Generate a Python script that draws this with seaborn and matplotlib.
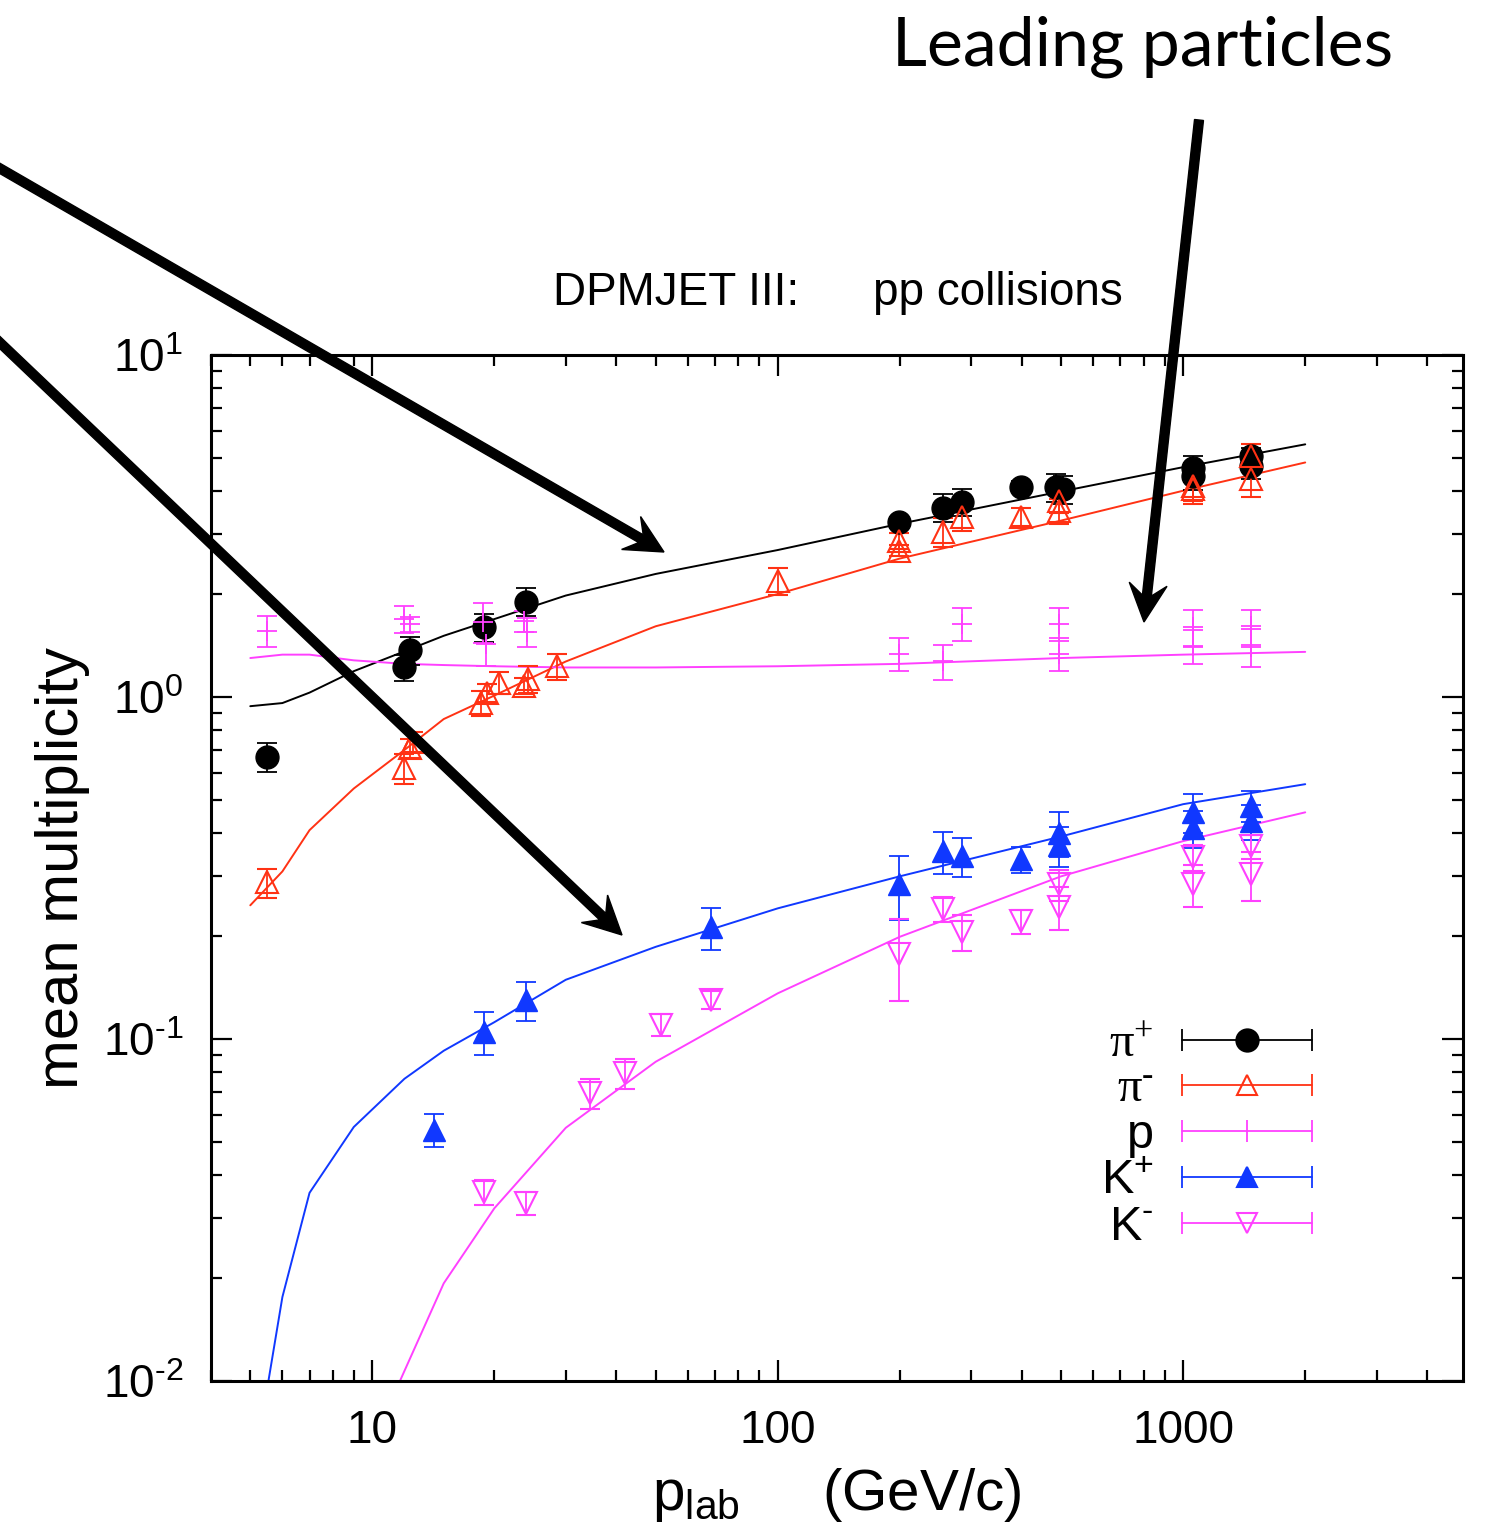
import numpy as np
import pandas as pd
import matplotlib
matplotlib.use("Agg")
import matplotlib.pyplot as plt
import seaborn as sns
from matplotlib.patches import FancyArrow
from matplotlib.transforms import IdentityTransform
from matplotlib.ticker import LogLocator, FixedLocator, FuncFormatter, NullFormatter

# ---------------- DPMJET III model curves (pp collisions) ----------------
p_model = [5, 6, 7, 9, 12, 15, 20, 30, 50, 100, 200, 500, 1000, 2000]
pip_model = [0.94, 0.96, 1.03, 1.19, 1.36, 1.51, 1.69, 1.98, 2.29, 2.69, 3.21, 3.99, 4.70, 5.48]
pim_model = [0.246, 0.309, 0.408, 0.540, 0.70, 0.862, 1.01, 1.27, 1.61, 2.00, 2.54, 3.28, 4.01, 4.85]
prot_model = [1.30, 1.33, 1.33, 1.28, 1.25, 1.24, 1.23, 1.22, 1.22, 1.23, 1.25, 1.30, 1.33, 1.355]
kp_model = [0.0048, 0.0176, 0.0355, 0.0553, 0.0765, 0.0924, 0.112, 0.149, 0.186, 0.241, 0.299, 0.391, 0.486, 0.556]
km_model = [0.0008, 0.0015, 0.0025, 0.0050, 0.0107, 0.0193, 0.032, 0.055, 0.0858, 0.136, 0.199, 0.299, 0.379, 0.460]

# ---------------- experimental data ----------------
pip_p = [5.5, 12.0, 12.4, 18.9, 24, 199, 255, 285, 398, 485, 505, 1058, 1058, 1472, 1472]
pip_m = [0.667, 1.22, 1.37, 1.60, 1.90, 3.25, 3.58, 3.72, 4.12, 4.10, 4.05, 4.66, 4.44, 5.05, 4.75]
pip_e = [0.065, 0.11, 0.13, 0.15, 0.18, 0.12, 0.33, 0.34, 0.15, 0.38, 0.38, 0.40, 0.40, 0.30, 0.40]

pim_p = [5.5, 12.0, 12.4, 12.6, 18.5, 19.2, 20.5, 23.7, 24.2, 28.5, 100, 199, 199, 255, 285, 398,
         494, 494, 1058, 1058, 1472, 1472]
pim_m = [0.287, 0.62, 0.71, 0.74, 0.96, 1.03, 1.10, 1.08, 1.13, 1.23, 2.19, 2.86, 2.68, 3.04, 3.37, 3.37,
         3.75, 3.50, 4.15, 4.06, 5.05, 4.35]
pim_e = [0.028, 0.063, 0.045, 0.05, 0.08, 0.06, 0.08, 0.06, 0.10, 0.11, 0.20, 0.15, 0.10, 0.30, 0.32, 0.20,
         0.30, 0.30, 0.40, 0.40, 0.45, 0.50]

pr_p = [5.5, 12.0, 12.4, 18.7, 19.1, 23.7, 24.1, 199, 255, 285, 494, 494, 1058, 1058, 1472, 1472]
pr_m = [1.56, 1.69, 1.63, 1.66, 1.43, 1.67, 1.55, 1.34, 1.27, 1.64, 1.64, 1.34, 1.60, 1.41, 1.61, 1.40]
pr_e = [0.16, 0.15, 0.08, 0.22, 0.20, 0.12, 0.15, 0.15, 0.15, 0.18, 0.18, 0.15, 0.20, 0.16, 0.19, 0.18]

kp_p = [14.2, 18.9, 24, 68.6, 199, 255, 285, 398, 494, 494, 1058, 1058, 1472, 1472]
kp_m = [0.0542, 0.105, 0.130, 0.212, 0.283, 0.354, 0.342, 0.335, 0.400, 0.368, 0.460, 0.413, 0.480, 0.433]
kp_e = [0.006, 0.015, 0.017, 0.030, 0.060, 0.050, 0.045, 0.030, 0.060, 0.050, 0.060, 0.050, 0.050, 0.050]

km_p = [18.9, 24, 34.4, 42, 51.6, 68.6, 199, 255, 285, 398, 494, 494, 1058, 1058, 1472, 1472]
km_m = [0.0357, 0.0331, 0.0696, 0.0796, 0.110, 0.130, 0.177, 0.240, 0.206, 0.221, 0.283, 0.243,
        0.340, 0.283, 0.366, 0.303]
km_e = [0.003, 0.0025, 0.007, 0.008, 0.008, 0.008, 0.048, 0.020, 0.025, 0.018, 0.030, 0.035,
        0.030, 0.040, 0.030, 0.050]

species = ["pi+", "pi-", "p", "K+", "K-"]
HY = "\u2010"  # short hyphen used for negative signs
labels = [r"$\mathregular{π^{+}}$", r"$\mathregular{π^{" + HY + "}}$", "p",
          r"$\mathregular{K^{+}}$", r"$\mathregular{K^{" + HY + "}}$"]

BLACK, RED, MAGENTA, BLUE = "#000000", "#ff3214", "#ff40ff", "#1038ff"
colors = {"pi+": BLACK, "pi-": RED, "p": MAGENTA, "K+": BLUE, "K-": MAGENTA}

sns.set_theme(style="ticks")
plt.rcParams["font.family"] = ["Liberation Sans", "DejaVu Sans"]
plt.rcParams["mathtext.fontset"] = "custom"
plt.rcParams["mathtext.rm"] = "Liberation Sans"
plt.rcParams["mathtext.it"] = "Liberation Sans:italic"
plt.rcParams["mathtext.default"] = "regular"
plt.rcParams["text.color"] = "black"
plt.rcParams["axes.labelcolor"] = "black"
plt.rcParams["xtick.color"] = "black"
plt.rcParams["ytick.color"] = "black"
plt.rcParams["xtick.labelcolor"] = "black"
plt.rcParams["ytick.labelcolor"] = "black"
plt.rcParams["axes.edgecolor"] = "black"

W, H = 1490, 1529
fig = plt.figure(figsize=(W / 100, H / 100), dpi=100)
fig.patch.set_facecolor("white")
ax = fig.add_axes([211 / W, 1 - 1381 / H, 1252 / W, 1026 / H])
ax.set_facecolor("white")
ax.set_xscale("log")
ax.set_yscale("log")

# model curves
model = pd.DataFrame({
    "p_lab": p_model * 5,
    "mult": pip_model + pim_model + prot_model + kp_model + km_model,
    "species": [s for s in species for _ in p_model],
})
sns.lineplot(data=model, x="p_lab", y="mult", hue="species", palette=colors,
             estimator=None, sort=False, legend=False, linewidth=1.4, ax=ax)

# measurements with error bars
common = dict(ls="none", capsize=7.5, elinewidth=1.3, capthick=1.3, zorder=3)
ax.errorbar(pip_p, pip_m, yerr=pip_e, fmt="o", color=BLACK, ms=16.5, **common)
ax.errorbar(pim_p, pim_m, yerr=pim_e, fmt="^", color=RED, mfc="none", mec=RED, ms=16, mew=1.5, **common)
ax.errorbar(pr_p, pr_m, yerr=pr_e, fmt="+", color=MAGENTA, ms=15, mew=1.3, **common)
ax.errorbar(kp_p, kp_m, yerr=kp_e, fmt="^", color=BLUE, ms=16, **common)
ax.errorbar(km_p, km_m, yerr=km_e, fmt="v", color=MAGENTA, mfc="none", mec=MAGENTA, ms=16, mew=1.5, **common)

ax.set_xlim(4, 4900)
ax.set_ylim(0.01, 10)
ax.set_xlabel("")
ax.set_ylabel("")


def decade_label(v, pos):
    e = int(round(np.log10(v)))
    es = (HY + str(-e)) if e < 0 else str(e)
    return r"$\mathregular{10^{" + es + "}}$"


ax.xaxis.set_major_locator(FixedLocator([10, 100, 1000]))
ax.xaxis.set_major_formatter(FuncFormatter(lambda v, pos: f"{int(round(v))}"))
ax.xaxis.set_minor_locator(LogLocator(base=10, subs=np.arange(2, 10), numticks=20))
ax.xaxis.set_minor_formatter(NullFormatter())
ax.yaxis.set_major_locator(FixedLocator([0.01, 0.1, 1, 10]))
ax.yaxis.set_major_formatter(FuncFormatter(decade_label))
ax.yaxis.set_minor_locator(LogLocator(base=10, subs=np.arange(2, 10), numticks=20))
ax.yaxis.set_minor_formatter(NullFormatter())

ax.tick_params(which="both", direction="in", top=True, right=True, width=1.6, colors="black")
ax.tick_params(which="major", length=15, labelsize=33, pad=20)
ax.tick_params(which="minor", length=8)
for s in ax.spines.values():
    s.set_linewidth(2.2)
    s.set_color("black")

# key: label on the left, error-bar sample on the right
key_rows = [0.3324, 0.2885, 0.2437, 0.1988, 0.1540]
key_markers = [("o", BLACK, BLACK), ("^", RED, "none"), ("|", MAGENTA, MAGENTA),
               ("^", BLUE, BLUE), ("v", MAGENTA, "none")]
x0, x1 = (1182 - 211) / 1252, (1312 - 211) / 1252
xc = 0.5 * (x0 + x1)
for yk, lab, (mk, col, fc), sp in zip(key_rows, labels, key_markers, species):
    ax.plot([x0, x1], [yk, yk], color=col, lw=1.3, transform=ax.transAxes, clip_on=False)
    ax.plot([x0, x1], [yk, yk], ls="none", marker="|", ms=16, mew=1.3, color=col,
            transform=ax.transAxes, clip_on=False)
    if mk == "|":
        ax.plot([xc], [yk], ls="none", marker="|", ms=16, mew=1.3, color=col,
                transform=ax.transAxes, clip_on=False)
    else:
        ax.plot([xc], [yk], ls="none", marker=mk, ms=16 if mk == "o" else 14, mfc=fc, mec=col,
                mew=1.5, transform=ax.transAxes, clip_on=False)
    fam = ["Liberation Serif", "DejaVu Serif"] if sp.startswith("pi") else ["Liberation Sans", "DejaVu Sans"]
    ax.text((1154 - 211) / 1252, yk - 17 / 1026, lab, transform=ax.transAxes, ha="right",
            va="baseline", fontsize=35, family=fam, color="black")

# titles and axis labels
fig.text(553 / W, 1 - 305 / H, "DPMJET III:", fontsize=33, va="baseline", ha="left", color="black")
fig.text(873 / W, 1 - 305 / H, "pp collisions", fontsize=33, va="baseline", ha="left", color="black")
fig.text(837 / W, 1 - 1510 / H, r"$\mathregular{p_{lab}}$     (GeV/c)", fontsize=42,
         va="baseline", ha="center", color="black")
fig.text(78 / W, 1 - 868 / H, "mean multiplicity", fontsize=43, rotation=90,
         rotation_mode="anchor", ha="center", va="baseline", color="black")
fig.text(892 / W, 1 - 65 / H, "Leading particles", fontsize=49, va="baseline", ha="left",
         family=["Lato", "DejaVu Sans"], color="black")


# thick pointer arrows, given in pixel coordinates measured from the top-left corner
def pointer(xa, ya, xb, yb):
    arr = FancyArrow(xa, H - ya, xb - xa, -(yb - ya), width=9, head_width=38, head_length=38,
                     overhang=0.3, length_includes_head=True, color="black",
                     transform=IdentityTransform(), zorder=10)
    arr.set_clip_on(False)
    fig.add_artist(arr)


pointer(-6, 165, 664, 552)
pointer(-6, 337, 622, 935)
pointer(1199, 120, 1144, 622)

fig.savefig("out.png", dpi=100, facecolor="white")
